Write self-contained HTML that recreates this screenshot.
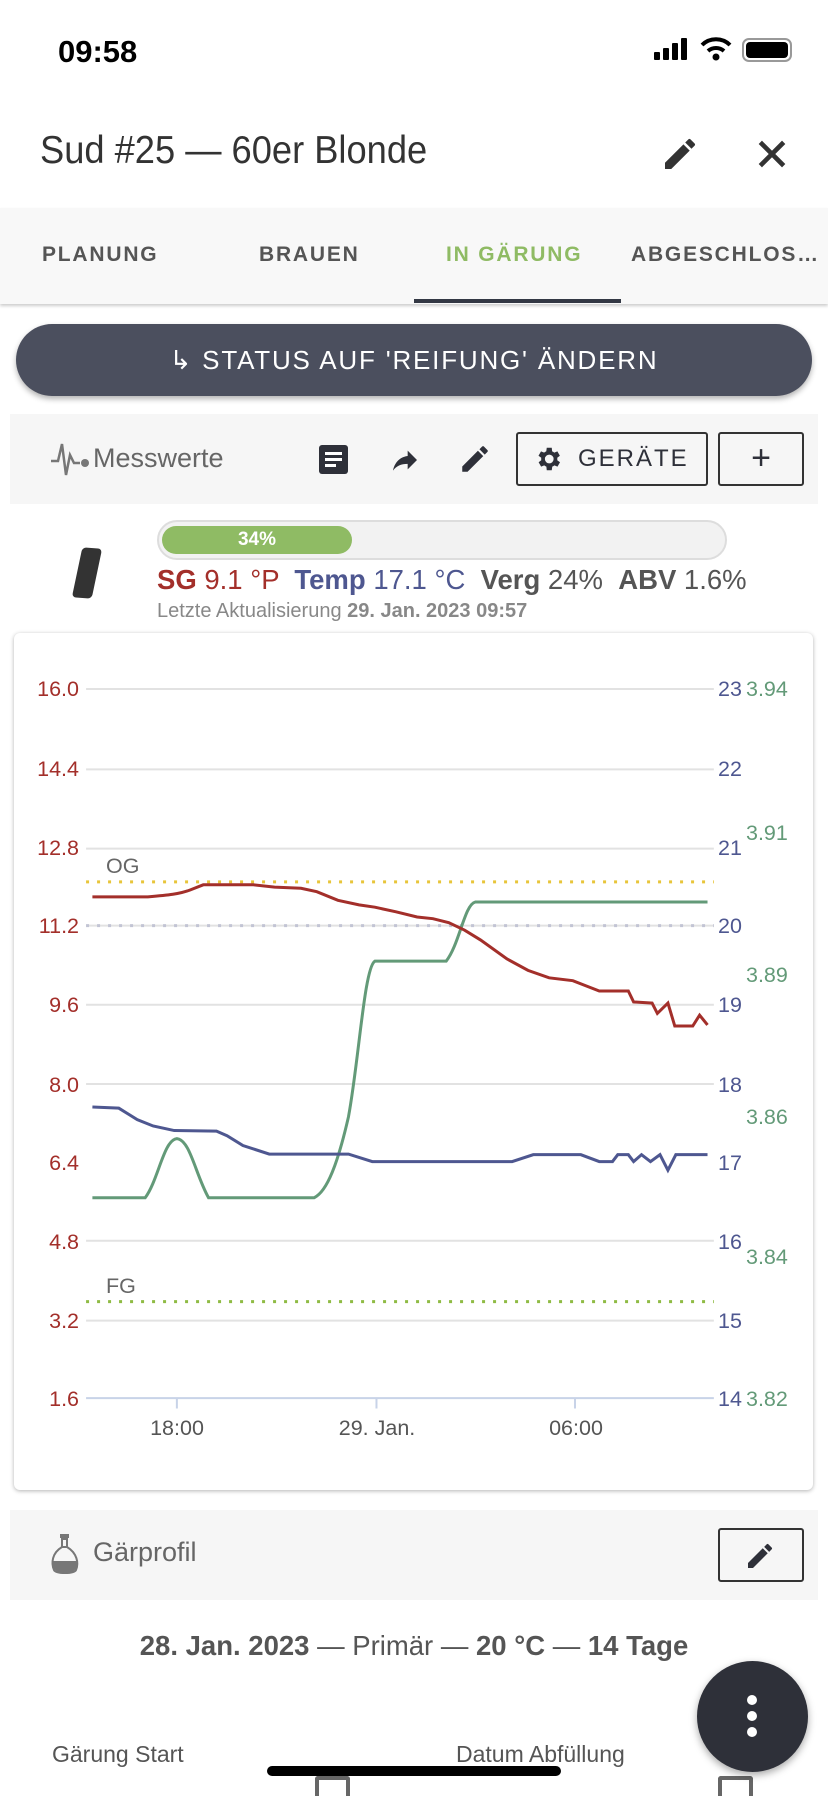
<!DOCTYPE html>
<html><head><meta charset="utf-8"><style>
*{margin:0;padding:0;box-sizing:border-box}
body{width:828px;height:1792px;overflow:hidden;background:#fff;font-family:"Liberation Sans",sans-serif;position:relative;color:#444}
.a{position:absolute;white-space:nowrap}
.tab{position:absolute;top:243px;font-size:21px;letter-spacing:1.8px;color:#555;font-weight:bold}
.ob{position:absolute;border:2px solid #333;border-radius:3px}
</style></head><body>
<div class="a" style="left:58px;top:34px;font-size:31px;font-weight:bold;color:#000">09:58</div>
<div class="a" style="left:654px;top:38px;width:36px;height:22px">
<div class="a" style="left:0;top:14px;width:6px;height:8px;background:#000;border-radius:1px"></div>
<div class="a" style="left:9px;top:10px;width:6px;height:12px;background:#000;border-radius:1px"></div>
<div class="a" style="left:18px;top:5px;width:6px;height:17px;background:#000;border-radius:1px"></div>
<div class="a" style="left:27px;top:0;width:6px;height:22px;background:#000;border-radius:1px"></div></div>
<svg class="a" style="left:700px;top:36px" width="32" height="26" viewBox="0 0 32 26"><path d="M2 9 A20 20 0 0 1 30 9" stroke="#000" stroke-width="4" fill="none"/><path d="M8 15 A12 12 0 0 1 24 15" stroke="#000" stroke-width="4" fill="none"/><circle cx="16" cy="21" r="3.5" fill="#000"/></svg>
<div class="a" style="left:742px;top:38px;width:50px;height:24px;border:2px solid #999;border-radius:7px"><div style="margin:2px;width:42px;height:16px;background:#000;border-radius:4px"></div></div>
<div class="a" style="left:40px;top:129px;font-size:39px;color:#333;transform:scaleX(0.93);transform-origin:left">Sud #25 — 60er Blonde</div>
<svg class="a" style="left:660px;top:134px" width="40" height="40" viewBox="0 0 24 24"><path d="M3 17.25V21h3.75L17.81 9.94l-3.75-3.75L3 17.25zM20.71 7.04a1 1 0 0 0 0-1.41l-2.34-2.34a1 1 0 0 0-1.41 0l-1.83 1.83 3.75 3.75 1.83-1.83z" fill="#333"/></svg>
<svg class="a" style="left:752px;top:134px" width="40" height="40" viewBox="0 0 24 24"><path d="M5 5L19 19M19 5L5 19" stroke="#333" stroke-width="2.8"/></svg>
<div class="a" style="left:0;top:208px;width:828px;height:96px;background:#f8f8f8;box-shadow:0 2px 3px rgba(0,0,0,.2)"></div>
<div class="tab" style="left:42px">PLANUNG</div>
<div class="tab" style="left:259px">BRAUEN</div>
<div class="tab" style="left:446px;color:#8fbb64">IN GÄRUNG</div>
<div class="tab" style="left:631px">ABGESCHLOS…</div>
<div class="a" style="left:414px;top:299px;width:207px;height:4px;background:#333844"></div>
<div class="a" style="left:16px;top:324px;width:796px;height:72px;background:#4b4f5e;border-radius:36px;box-shadow:0 3px 6px rgba(0,0,0,.3);color:#fff;font-size:26px;letter-spacing:1.8px;text-align:center;line-height:72px">↳ STATUS AUF 'REIFUNG' ÄNDERN</div>
<div class="a" style="left:10px;top:414px;width:808px;height:90px;background:#f6f6f6"></div>
<svg class="a" style="left:50px;top:441px" width="40" height="36" viewBox="0 0 40 36"><path d="M1 20H8L12 3L16 34L20 14L24 22H30" stroke="#777" stroke-width="2.5" fill="none"/><circle cx="35" cy="22" r="4" fill="#777"/></svg>
<div class="a" style="left:93px;top:443px;font-size:27px;color:#666">Messwerte</div>
<div class="a" style="left:319px;top:445px;width:29px;height:29px;background:#2e3039;border-radius:3px"><div style="margin:7px 6px 0;height:3px;background:#fff"></div><div style="margin:3px 6px 0;height:3px;background:#fff"></div><div style="margin:3px 12px 0 6px;height:3px;background:#fff"></div></div>
<svg class="a" style="left:388px;top:444px" width="34" height="32" viewBox="0 0 24 24"><path d="M14 5v4C7 10 4 15 3 20c2.5-3.5 6-5.1 11-5.1V19l7-7z" fill="#2e3039"/></svg>
<svg class="a" style="left:458px;top:442px" width="34" height="34" viewBox="0 0 24 24"><path d="M3 17.25V21h3.75L17.81 9.94l-3.75-3.75L3 17.25zM20.71 7.04a1 1 0 0 0 0-1.41l-2.34-2.34a1 1 0 0 0-1.41 0l-1.83 1.83 3.75 3.75 1.83-1.83z" fill="#2e3039"/></svg>
<div class="ob" style="left:516px;top:432px;width:192px;height:54px"></div>
<svg class="a" style="left:533px;top:444px" width="30" height="30" viewBox="0 0 24 24"><path d="M19.4 13a7.5 7.5 0 0 0 0-2l2.1-1.6-2-3.5-2.5 1a7 7 0 0 0-1.7-1L15 3h-4l-.4 2.9a7 7 0 0 0-1.7 1l-2.5-1-2 3.5L6.6 11a7.5 7.5 0 0 0 0 2l-2.1 1.6 2 3.5 2.5-1a7 7 0 0 0 1.7 1L11 21h4l.4-2.9a7 7 0 0 0 1.7-1l2.5 1 2-3.5zM13 15.5a3.5 3.5 0 1 1 0-7 3.5 3.5 0 0 1 0 7z" fill="#2e3039"/></svg>
<div class="a" style="left:578px;top:445px;font-size:24px;letter-spacing:2px;color:#2e3039">GERÄTE</div>
<div class="ob" style="left:718px;top:432px;width:86px;height:54px;font-size:34px;text-align:center;line-height:48px;color:#2e3039">+</div>
<div class="a" style="left:77px;top:548px;width:20px;height:50px;background:#333;border-radius:4px;transform:skewX(-8deg) rotate(4deg)"></div>
<div class="a" style="left:157px;top:520px;width:570px;height:40px;border:2px solid #ddd;border-radius:20px;background:#f2f2f2"></div>
<div class="a" style="left:162px;top:526px;width:190px;height:28px;border-radius:14px;background:#8fbb64;color:#fff;font-weight:bold;font-size:19px;text-align:center;line-height:28px">34%</div>
<div class="a" style="left:157px;top:564px;font-size:27.5px;color:#555"><b style="color:#a32f2a">SG</b> <span style="color:#a32f2a">9.1 °P</span> &nbsp;<b style="color:#4e5790">Temp</b> <span style="color:#4e5790">17.1 °C</span> &nbsp;<b>Verg</b> 24% &nbsp;<b>ABV</b> 1.6%</div>
<div class="a" style="left:157px;top:600px;font-size:20px;color:#888">Letzte Aktualisierung <b>29. Jan. 2023 09:57</b></div>
<div class="a" style="left:14px;top:633px;width:799px;height:857px;background:#fff;border-radius:6px;box-shadow:0 1px 4px rgba(0,0,0,.3)"></div>
<svg class="a" style="left:0;top:600px" width="828" height="900">
<g transform="scale(0.528,0.5742)" fill="none">
<path vector-effect="non-scaling-stroke" stroke="#e2e2e2" stroke-width="2" d="M163 155H1352M163 295H1352M163 433H1352M163 567H1352M163 705H1352M163 843H1352M163 1116H1352M163 1255H1352"/>
<path vector-effect="non-scaling-stroke" d="M163 1390H1352M335 1390V1408M713 1390V1408M1089 1390V1408" stroke="#c8d3e8" stroke-width="2"/>
<path vector-effect="non-scaling-stroke" d="M163 491H1352" stroke="#e8c53a" stroke-width="3" stroke-dasharray="3 8"/>
<path vector-effect="non-scaling-stroke" d="M163 567H1352" stroke="#c2c4d4" stroke-width="3" stroke-dasharray="3 8"/>
<path vector-effect="non-scaling-stroke" d="M163 1222H1352" stroke="#8fbb44" stroke-width="3" stroke-dasharray="3 8"/>
<path vector-effect="non-scaling-stroke" stroke="#639a78" stroke-width="3" d="M175,1041 L275,1041 C300,1010 310,940 335,938 C360,940 370,1000 395,1041 L595,1041 C620,1030 640,980 660,900 C680,800 690,640 710,629 L845,629 C870,600 880,530 900,526 L1340,526"/>
<path vector-effect="non-scaling-stroke" stroke="#4e5790" stroke-width="3" d="M175,883 L225,885 L260,905 L290,916 L330,924 L410,925 L430,933 L460,950 L510,965 L660,965 L705,978 L970,978 L1010,966 L1100,966 L1135,978 L1160,978 L1170,966 L1190,966 L1200,978 L1215,966 L1232,978 L1250,966 L1265,993 L1280,966 L1340,966"/>
<path vector-effect="non-scaling-stroke" stroke="#a32f2a" stroke-width="3" d="M175,517 L280,517 C320,514 340,512 360,505 L385,496 L480,496 L520,500 L570,502 L600,508 L640,523 L680,531 L710,535 L750,543 L790,552 L820,555 L850,562 L880,575 L910,592 L960,625 L1000,645 L1040,658 L1085,663 L1110,672 L1135,681 L1190,681 L1200,700 L1235,702 L1245,720 L1265,702 L1278,742 L1312,742 L1325,723 L1340,740"/>
</g>
<g font-family="Liberation Sans" font-size="21.5">
<g fill="#a32f2a" text-anchor="end"><text x="79" y="96">16.0</text><text x="79" y="176">14.4</text><text x="79" y="255">12.8</text><text x="79" y="333">11.2</text><text x="79" y="412">9.6</text><text x="79" y="492">8.0</text><text x="79" y="570">6.4</text><text x="79" y="649">4.8</text><text x="79" y="728">3.2</text><text x="79" y="806">1.6</text></g>
<g fill="#4e5790"><text x="718" y="96">23</text><text x="718" y="176">22</text><text x="718" y="255">21</text><text x="718" y="333">20</text><text x="718" y="412">19</text><text x="718" y="492">18</text><text x="718" y="570">17</text><text x="718" y="649">16</text><text x="718" y="728">15</text><text x="718" y="806">14</text></g>
<g fill="#639a78"><text x="746" y="96">3.94</text><text x="746" y="240">3.91</text><text x="746" y="382">3.89</text><text x="746" y="524">3.86</text><text x="746" y="664">3.84</text><text x="746" y="806">3.82</text></g>
<g fill="#666"><text x="106" y="273">OG</text><text x="106" y="693">FG</text></g>
<g fill="#555" text-anchor="middle"><text x="177" y="835">18:00</text><text x="377" y="835">29. Jan.</text><text x="576" y="835">06:00</text></g>
</g></svg>
<div class="a" style="left:10px;top:1510px;width:808px;height:90px;background:#f6f6f6"></div>
<svg class="a" style="left:50px;top:1533px" width="30" height="42" viewBox="0 0 30 42"><rect x="10" y="1" width="9" height="4" fill="#777"/><rect x="12" y="6" width="5" height="8" fill="none" stroke="#777" stroke-width="2"/><path d="M12 14 C2 20 1 30 4 37 C6 41 24 41 26 37 C29 30 27 20 17 14Z" fill="none" stroke="#777" stroke-width="2"/><path d="M3 28 H27 C28 34 26 40 15 40 C4 40 2 34 3 28Z" fill="#777"/></svg>
<div class="a" style="left:93px;top:1537px;font-size:27px;color:#666">Gärprofil</div>
<div class="ob" style="left:718px;top:1528px;width:86px;height:54px"></div>
<svg class="a" style="left:744px;top:1540px" width="32" height="32" viewBox="0 0 24 24"><path d="M3 17.25V21h3.75L17.81 9.94l-3.75-3.75L3 17.25zM20.71 7.04a1 1 0 0 0 0-1.41l-2.34-2.34a1 1 0 0 0-1.41 0l-1.83 1.83 3.75 3.75 1.83-1.83z" fill="#2e3039"/></svg>
<div class="a" style="left:0;width:828px;top:1630px;text-align:center;font-size:27.5px;color:#555"><b>28. Jan. 2023</b> — Primär — <b>20 °C</b> — <b>14 Tage</b></div>
<div class="a" style="left:52px;top:1741px;font-size:23px;color:#555">Gärung Start</div>
<div class="a" style="left:456px;top:1741px;font-size:23px;color:#555">Datum Abfüllung</div>
<div class="a" style="left:315px;top:1776px;width:35px;height:20px;border:4px solid #666;border-bottom:none;border-radius:3px 3px 0 0"></div>
<div class="a" style="left:718px;top:1776px;width:35px;height:20px;border:4px solid #666;border-bottom:none;border-radius:3px 3px 0 0"></div>
<div class="a" style="left:267px;top:1766px;width:294px;height:10px;background:#000;border-radius:5px"></div>
<div class="a" style="left:697px;top:1661px;width:111px;height:111px;border-radius:50%;background:#2e3039;box-shadow:0 3px 8px rgba(0,0,0,.35)">
<div class="a" style="left:50px;top:34px;width:10px;height:10px;border-radius:50%;background:#fff"></div>
<div class="a" style="left:50px;top:50px;width:10px;height:10px;border-radius:50%;background:#fff"></div>
<div class="a" style="left:50px;top:66px;width:10px;height:10px;border-radius:50%;background:#fff"></div></div>
</body></html>
